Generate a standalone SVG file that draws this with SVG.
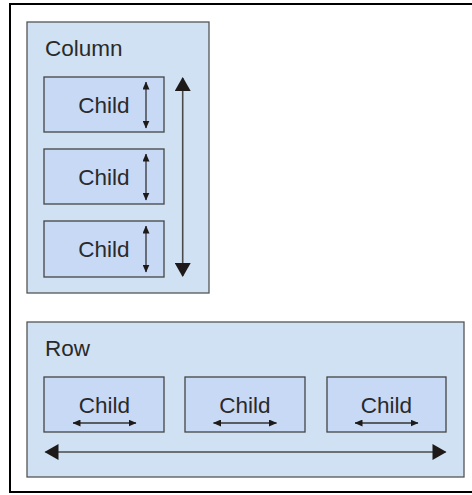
<svg xmlns="http://www.w3.org/2000/svg" width="472" height="495" viewBox="0 0 472 495">
<style>
.frame{fill:#ffffff;stroke:#000000;stroke-width:2}
.container{fill:#cfe1f2;stroke:#555555;stroke-width:1.3}
.child{fill:#c8d9f5;stroke:#444444;stroke-width:1.3}
.label{font-family:"Liberation Sans",Arial,sans-serif;font-size:22.5px;fill:#2a2a2a}
.big{stroke:#4a4a4a;stroke-width:1.6;fill:none}
.small{stroke:#333333;stroke-width:1.3;fill:none}
</style>
<defs>
<marker id="bigHead" markerUnits="userSpaceOnUse" markerWidth="16" markerHeight="16" viewBox="0 0 14 16" refX="13" refY="8" orient="auto-start-reverse">
<path d="M0,0 L14,8 L0,16 Z" fill="#1e1a1a"/>
</marker>
<marker id="smallHead" markerUnits="userSpaceOnUse" markerWidth="8" markerHeight="7" viewBox="0 0 8 7" refX="7.5" refY="3.5" orient="auto-start-reverse">
<path d="M0,0 L8,3.5 L0,7 Z" fill="#1e1a1a"/>
</marker>
</defs>
<rect class="frame" x="10" y="4" width="475" height="488"/>
<g id="column">
<rect class="container" x="27" y="22" width="182" height="271"/>
<text class="label" x="45" y="56">Column</text>
</g>
<g id="column-child-1">
<rect class="child" x="44" y="77" width="120" height="55"/>
<text class="label" x="129.5" y="112.5" text-anchor="end">Child</text>
</g>
<g id="column-child-2">
<rect class="child" x="44" y="149" width="120" height="55"/>
<text class="label" x="129.5" y="184.5" text-anchor="end">Child</text>
</g>
<g id="column-child-3">
<rect class="child" x="44" y="221" width="120" height="56"/>
<text class="label" x="129.5" y="256.5" text-anchor="end">Child</text>
</g>
<g id="row">
<rect class="container" x="27" y="322" width="437" height="155"/>
<text class="label" x="45" y="356">Row</text>
</g>
<g id="row-child-1">
<rect class="child" x="44" y="377" width="120" height="55"/>
<text class="label" x="104.5" y="412.5" text-anchor="middle">Child</text>
</g>
<g id="row-child-2">
<rect class="child" x="185" y="377" width="120" height="55"/>
<text class="label" x="245" y="412.5" text-anchor="middle">Child</text>
</g>
<g id="row-child-3">
<rect class="child" x="327" y="377" width="119" height="55"/>
<text class="label" x="386.5" y="412.5" text-anchor="middle">Child</text>
</g>
<g id="connectors">
<line class="big" x1="182.7" y1="78" x2="182.7" y2="276" marker-start="url(#bigHead)" marker-end="url(#bigHead)"/>
<line class="big" x1="45.5" y1="452" x2="445.5" y2="452" marker-start="url(#bigHead)" marker-end="url(#bigHead)"/>
<line class="small" x1="146" y1="82" x2="146" y2="128" marker-start="url(#smallHead)" marker-end="url(#smallHead)"/>
<line class="small" x1="146" y1="154" x2="146" y2="200" marker-start="url(#smallHead)" marker-end="url(#smallHead)"/>
<line class="small" x1="146" y1="226" x2="146" y2="272" marker-start="url(#smallHead)" marker-end="url(#smallHead)"/>
<line class="small" x1="73" y1="423" x2="136" y2="423" marker-start="url(#smallHead)" marker-end="url(#smallHead)"/>
<line class="small" x1="213.5" y1="423" x2="276.5" y2="423" marker-start="url(#smallHead)" marker-end="url(#smallHead)"/>
<line class="small" x1="355" y1="423" x2="418" y2="423" marker-start="url(#smallHead)" marker-end="url(#smallHead)"/>
</g>
</svg>
